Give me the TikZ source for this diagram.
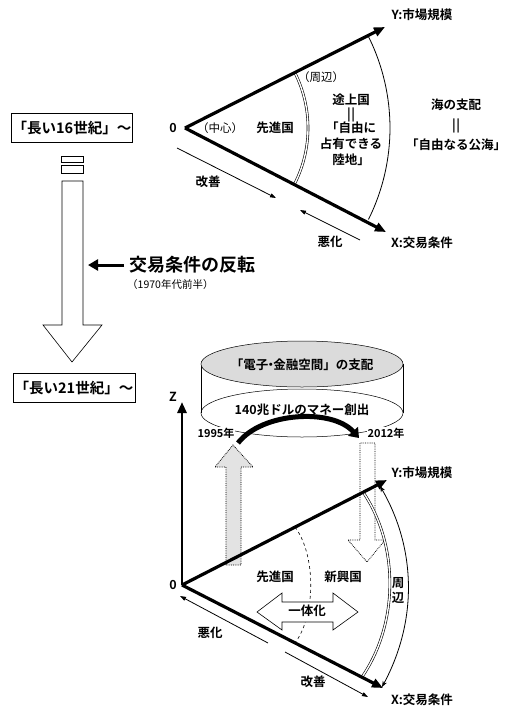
\documentclass[tikz,border=0pt]{standalone}
\usepackage{fontspec}
\setmainfont{Noto Sans CJK JP}[BoldFont={Noto Sans CJK JP Bold}]
\usetikzlibrary{arrows.meta, positioning, calc}

\newcommand{\eqbar}{|\kern0.6pt|}

\begin{document}
\begin{tikzpicture}[x=1pt, y=-1pt,
  axis/.style={line width=3.2pt, -{Triangle[length=11pt, width=9pt]}},
  move/.style={line width=0.8pt, -{Triangle[length=6pt, width=4pt]}},
  lbl/.style={font=\fontsize{12.5}{15}\selectfont\bfseries, inner sep=1pt},
  small/.style={font=\fontsize{10.5}{12}\selectfont, inner sep=1pt},
  era/.style={draw, line width=0.6pt, font=\fontsize{14.5}{16}\selectfont\bfseries,
              minimum width=119pt, minimum height=29pt, inner sep=1pt}]
  \useasboundingbox (0,0) rectangle (513,716);

  % ---- upper picture: the long 16th century
  \coordinate (O1) at (185,128);
  \coordinate (Y1) at (385,27);
  \coordinate (X1) at (386,232);
  \draw[line width=0.6pt, double, double distance=1.4pt]
    ($(O1)+(-27:123)$) arc[start angle=-27, end angle=27, radius=123];
  \draw[line width=0.8pt]
    ($(O1)+(-26.5:205)$) arc[start angle=-26.5, end angle=26.5, radius=205];
  \draw[axis] (O1) -- (Y1);
  \draw[axis] (O1) -- (X1);
  \node[lbl] (o1) at (173,128) {0};
  \node[lbl] (y1) at (422,15) {Y:市場規模};
  \node[lbl] (x1) at (422,243) {X:交易条件};
  \node[small, font=\fontsize{11.5}{13}\selectfont] (center) at (220,128) {（中心）};
  \node[lbl] (adv1) at (275,128) {先進国};
  \node[small, font=\fontsize{11.5}{13}\selectfont] (peri1) at (321,77) {（周辺）};
  \node[lbl, align=center, font=\fontsize{12.5}{16}\selectfont\bfseries] (dev) at (351,130)
    {途上国\\[-2pt]\eqbar\\[-2pt]「自由に\\占有できる\\陸地」};
  \node[lbl, align=center] (sea) at (456,125) {海の支配\\[5pt]\eqbar\\[5pt]「自由なる公海」};
  \coordinate (g1a) at (177,148);
  \coordinate (g1b) at (276,198);
  \draw[move] (g1a) -- (g1b);
  \node[lbl] (good1) at (208,182) {改善};
  \coordinate (b1a) at (360,240);
  \coordinate (b1b) at (300,210);
  \draw[move] (b1a) -- (b1b);
  \node[lbl] (bad1) at (330,242) {悪化};

  % ---- left column
  \node[era] (c16) at (72,128) {「長い16世紀」〜};
  \draw[line width=0.6pt] (61,156) rectangle (83,162);
  \draw[line width=0.6pt] (61,165) rectangle (83,173);
  \draw[line width=0.6pt] (62,181) -- (62,325) -- (43,325) -- (72,362)
    -- (102,325) -- (83,325) -- (83,181) -- cycle;
  \node[era, minimum width=122pt] (c21) at (74,388) {「長い21世紀」〜};
  \node[lbl, anchor=west, font=\fontsize{18}{20}\selectfont\bfseries] (rev) at (128,265) {交易条件の反転};
  \coordinate (revtip) at (88,265);
  \draw[line width=3pt, -{Triangle[length=10pt, width=11pt]}, shorten <=4pt] (rev) -- (revtip);
  \node[small, anchor=west] (rev70) at (126,285) {（1970年代前半）};

  % ---- lower picture: the long 21st century
  \coordinate (O2) at (182,585);
  \coordinate (Z2) at (182,402);
  \coordinate (Y2) at (387,480);
  \coordinate (X2) at (383,688);

  % cylinder
  \draw[line width=0.5pt] (302,413) ellipse[x radius=101, y radius=24];
  \draw[line width=0.5pt] (201,364) -- (201,413);
  \draw[line width=0.5pt] (403,364) -- (403,413);
  \draw[line width=0.5pt, fill=gray!28] (302,364) ellipse[x radius=101, y radius=23];
  \node[lbl] (space) at (302,365) {「電子\kern-0.3em・\kern-0.3em 金融空間」の支配};
  \node[lbl] (money) at (302,410) {140兆ドルのマネー創出};
  \node[small, font=\fontsize{11}{12}\selectfont\bfseries, fill=white] (y95) at (216,433) {1995年};
  \node[small, font=\fontsize{11}{12}\selectfont\bfseries, fill=white] (y12) at (386,433) {2012年};

  % up and down
  \draw[densely dotted, line width=0.8pt, fill=gray!22] (226,565) -- (226,467) -- (215,467)
    -- (233,445) -- (253,467) -- (241,467) -- (241,565) -- cycle;
  \draw[densely dotted, line width=0.8pt] (360,443) -- (360,540) -- (348,540)
    -- (367,562) -- (385,540) -- (375,540) -- (375,443) -- cycle;
  \coordinate (arcA) at (238,443);
  \coordinate (arcB) at (359,438);
  \draw[line width=5pt, -{Triangle[length=9pt, width=13pt]}]
    (arcA) .. controls (262,412) and (332,408) .. (arcB);

  % plane
  \draw[dashed, line width=0.6pt] (295,527) .. controls (316,555) and (316,615) .. (295,643);
  \draw[line width=0.6pt, double, double distance=1.4pt]
    (363,492) .. controls (399,545) and (399,623) .. (362,677);
  \draw[line width=0.8pt, {Stealth[length=6pt]}-{Stealth[length=6pt]}]
    (380,486) .. controls (417,550) and (417,622) .. (382,687);
  \draw[axis, line width=2.8pt] (O2) -- (Z2);
  \draw[axis] (O2) -- (Y2);
  \draw[axis] (O2) -- (X2);
  \node[lbl] (o2) at (173,585) {0};
  \node[lbl] (z2) at (173,397) {Z};
  \node[lbl] (y2) at (422,473) {Y:市場規模};
  \node[lbl] (x2) at (422,700) {X:交易条件};
  \node[lbl] (adv2) at (275,577) {先進国};
  \node[lbl] (emg) at (343,577) {新興国};
  \node[lbl, align=center, font=\fontsize{12.5}{15}\selectfont\bfseries] (peri2) at (398,590) {周\\辺};
  \draw[line width=0.6pt, fill=white] (257,612) -- (282,593) -- (282,602) -- (333,602)
    -- (333,593) -- (358,612) -- (333,630) -- (333,622) -- (282,622) -- (282,630) -- cycle;
  \node[lbl] (unify) at (307,611) {一体化};
  \coordinate (b2a) at (268,643);
  \coordinate (b2b) at (180,596);
  \draw[move] (b2a) -- (b2b);
  \node[lbl] (bad2) at (210,633) {悪化};
  \coordinate (g2a) at (285,652);
  \coordinate (g2b) at (368,697);
  \draw[move] (g2a) -- (g2b);
  \node[lbl] (good2) at (313,682) {改善};
\end{tikzpicture}
\end{document}
